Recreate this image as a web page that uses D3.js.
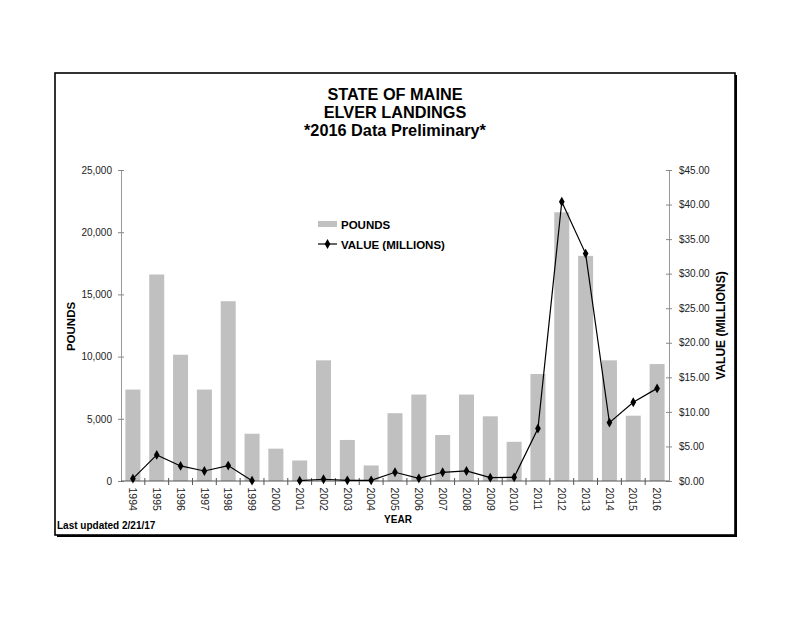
<!DOCTYPE html>
<html><head><meta charset="utf-8">
<script src="https://cdn.jsdelivr.net/npm/d3@7"></script>
<style>body{margin:0;background:#fff;}svg{display:block;font-family:"Liberation Sans",Arial,sans-serif;}</style>
</head><body>
<svg id="c" width="800" height="618"></svg>
<script>
const years = ["1994","1995","1996","1997","1998","1999","2000","2001","2002","2003","2004","2005","2006","2007","2008","2009","2010","2011","2012","2013","2014","2015","2016"];
const pounds = [7350,16600,10150,7350,14450,3800,2600,1650,9700,3300,1250,5450,6950,3700,6950,5200,3150,8600,21600,18100,9700,5250,9400];
const valueMillions = [0.34,3.77,2.18,1.45,2.23,0.05,null,0.05,0.25,0.1,0.1,1.26,0.38,1.26,1.45,0.48,0.53,7.6,40.4,32.9,8.45,11.4,13.4];
const leftTicks = [0,5000,10000,15000,20000,25000];
const rightTicks = [0,5,10,15,20,25,30,35,40,45];
const titleLines = ["STATE OF MAINE","ELVER LANDINGS","*2016 Data Preliminary*"];

const svg = d3.select("#c");
// frame
svg.append("rect").attr("x",57).attr("y",75).attr("width",680).attr("height",462).attr("fill","#000");
svg.append("rect").attr("x",55).attr("y",73).attr("width",680).attr("height",462).attr("fill","#fff").attr("stroke","#000").attr("stroke-width",1.6);

const L=121,R=669,T=170,B=481;
const x = d3.scaleBand().domain(years).range([L,R]).padding(0);
const yL = d3.scaleLinear().domain([0,25000]).range([B,T]);
const yR = d3.scaleLinear().domain([0,45]).range([B,T]);
const bw = x.bandwidth()*0.63;

// bars
svg.append("g").selectAll("rect").data(years).join("rect")
  .attr("x",(d)=>x(d)+x.bandwidth()/2-bw/2)
  .attr("y",(d,i)=>yL(pounds[i]))
  .attr("width",bw)
  .attr("height",(d,i)=>B-yL(pounds[i]))
  .attr("fill","#c0c0c0");

// left axis
const gL = svg.append("g").attr("transform",`translate(${L},0)`)
  .call(d3.axisLeft(yL).tickValues(leftTicks).tickFormat(d3.format(",")).tickSizeInner(3).tickSizeOuter(0).tickPadding(6));
gL.selectAll(".tick line").attr("x2",-3).attr("x1",3).attr("stroke","#888");
gL.select(".domain").attr("stroke","#999");
gL.selectAll("text").attr("font-size",10).attr("fill","#222");

// right axis
const gR = svg.append("g").attr("transform",`translate(${R},0)`)
  .call(d3.axisRight(yR).tickValues(rightTicks).tickFormat(d3.format("$.2f")).tickSizeInner(3).tickSizeOuter(0).tickPadding(7));
gR.selectAll(".tick line").attr("x2",3).attr("x1",-3).attr("stroke","#888");
gR.select(".domain").attr("stroke","#999");
gR.selectAll("text").attr("font-size",10).attr("fill","#222");

// bottom axis
const gB = svg.append("g").attr("transform",`translate(0,${B})`);
gB.append("line").attr("x1",L).attr("x2",R).attr("stroke","#555");
gB.selectAll("line.t").data(years.slice(1)).join("line").attr("class","t")
  .attr("x1",d=>x(d)).attr("x2",d=>x(d)).attr("y1",-3).attr("y2",4).attr("stroke","#555");
gB.selectAll("text").data(years).join("text")
  .attr("transform",d=>`translate(${x(d)+x.bandwidth()/2-3.8},6.5) rotate(90)`)
  .attr("font-size",10.5).attr("fill","#222").text(d=>d);

// line
const pts = years.map((d,i)=>({x:x(d)+x.bandwidth()/2, v:valueMillions[i]}));
svg.append("path").datum(pts)
  .attr("d",d3.line().defined(d=>d.v!=null).x(d=>d.x).y(d=>yR(d.v)))
  .attr("fill","none").attr("stroke","#000").attr("stroke-width",1.2);
const diamond = d3.symbol().type(d3.symbolDiamond).size(28);
svg.append("g").selectAll("path").data(pts.filter(d=>d.v!=null)).join("path")
  .attr("transform",d=>`translate(${d.x},${yR(d.v)})`).attr("d",diamond).attr("fill","#000");

// title
svg.append("g").selectAll("text").data(titleLines).join("text")
  .attr("x",395).attr("y",(d,i)=>99.5+i*18.2).attr("text-anchor","middle")
  .attr("font-size",16.3).attr("font-weight","bold").attr("fill","#000").text(d=>d);

// axis titles
svg.append("text").attr("transform",`translate(74.5,326.5) rotate(-90)`).attr("text-anchor","middle")
  .attr("font-size",11.5).attr("font-weight","bold").text("POUNDS");
svg.append("text").attr("transform",`translate(724.5,325.5) rotate(-90)`).attr("text-anchor","middle")
  .attr("font-size",12).attr("font-weight","bold").text("VALUE (MILLIONS)");
svg.append("text").attr("x",398).attr("y",522.5).attr("text-anchor","middle")
  .attr("font-size",10).attr("font-weight","bold").text("YEAR");
svg.append("text").attr("x",57).attr("y",529).attr("font-size",10).attr("font-weight","bold").text("Last updated 2/21/17");

// legend
const lg = svg.append("g");
lg.append("rect").attr("x",318).attr("y",221).attr("width",19).attr("height",6).attr("fill","#c0c0c0");
lg.append("text").attr("x",341).attr("y",228.5).attr("font-size",11.5).attr("font-weight","bold").text("POUNDS");
lg.append("line").attr("x1",318).attr("x2",337).attr("y1",244).attr("y2",244).attr("stroke","#000").attr("stroke-width",1.2);
lg.append("path").attr("transform","translate(327.5,244)").attr("d",diamond).attr("fill","#000");
lg.append("text").attr("x",341).attr("y",248.5).attr("font-size",11.5).attr("font-weight","bold").text("VALUE (MILLIONS)");
</script>
</body></html>
